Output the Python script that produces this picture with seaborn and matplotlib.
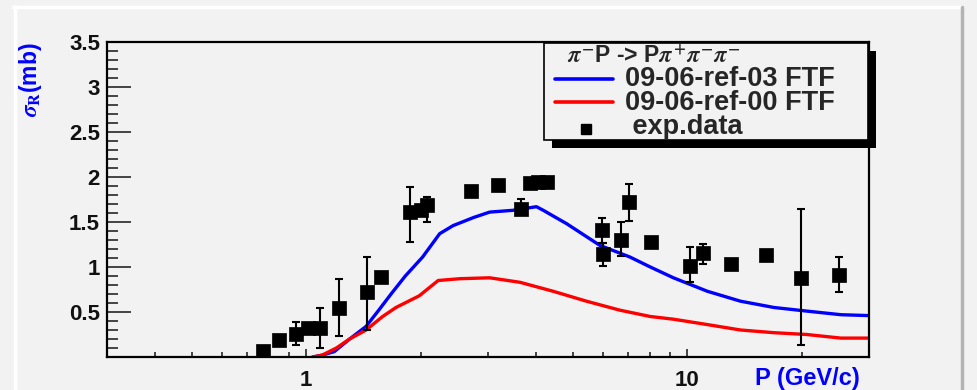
import numpy as np
import pandas as pd
import matplotlib
matplotlib.use("Agg")
import matplotlib.pyplot as plt
import seaborn as sns
from matplotlib.lines import Line2D
from matplotlib.patches import Rectangle
from matplotlib.ticker import LogLocator, NullFormatter, MultipleLocator

# ---- model curves (FTF) ----
ref03_p = [1.04, 1.10, 1.185, 1.30, 1.436, 1.55, 1.67, 1.82, 2.02, 2.24, 2.43, 2.75,
           3.03, 3.49, 4.02, 4.19, 4.83, 5.90, 7.08, 8.00, 9.20, 11.3, 13.8, 16.9,
           20.6, 25.3, 30.0]
ref03_sigma = [0.0, 0.02, 0.06, 0.20, 0.34, 0.52, 0.70, 0.90, 1.11, 1.37, 1.46, 1.55,
               1.61, 1.63, 1.67, 1.63, 1.48, 1.24, 1.11, 1.00, 0.88, 0.73, 0.62, 0.55,
               0.51, 0.47, 0.46]

ref00_p = [1.04, 1.10, 1.20, 1.30, 1.436, 1.587, 1.72, 1.98, 2.22, 2.53, 3.03, 3.64,
           4.45, 5.44, 6.66, 8.00, 9.20, 11.3, 13.8, 16.9, 20.6, 25.3, 30.0]
ref00_sigma = [0.0, 0.02, 0.10, 0.20, 0.30, 0.45, 0.55, 0.68, 0.85, 0.87, 0.88, 0.83,
               0.73, 0.62, 0.52, 0.45, 0.42, 0.36, 0.30, 0.27, 0.25, 0.21, 0.21]

# ---- experimental data ----
exp_p = [0.77, 0.85, 0.94, 1.01, 1.09, 1.22, 1.44, 1.57, 1.87, 2.00, 2.08, 2.71,
         3.19, 3.66, 3.86, 4.05, 4.28, 5.96, 6.02, 6.70, 7.05, 8.05, 10.2, 11.0,
         13.0, 16.1, 19.95, 25.1]
exp_sigma = [0.07, 0.19, 0.26, 0.32, 0.32, 0.55, 0.72, 0.89, 1.61, 1.63, 1.69, 1.84,
             1.91, 1.65, 1.93, 1.95, 1.94, 1.41, 1.14, 1.30, 1.72, 1.28, 1.01, 1.16,
             1.03, 1.13, 0.88, 0.91]
exp_err_lo = [0.0, 0.0, 0.13, 0.0, 0.22, 0.32, 0.42, 0.0, 0.33, 0.0, 0.19, 0.0,
              0.06, 0.07, 0.0, 0.0, 0.0, 0.14, 0.13, 0.18, 0.21, 0.0, 0.18, 0.13,
              0.0, 0.0, 0.75, 0.19]
exp_err_hi = [0.0, 0.0, 0.13, 0.0, 0.23, 0.32, 0.39, 0.0, 0.28, 0.0, 0.09, 0.0,
              0.06, 0.11, 0.0, 0.0, 0.0, 0.14, 0.13, 0.20, 0.20, 0.0, 0.21, 0.10,
              0.0, 0.0, 0.76, 0.20]

x_ticks = [1, 10]
x_tick_labels = ["1", "10"]
y_ticks = [0.5, 1, 1.5, 2, 2.5, 3, 3.5]
y_tick_labels = ["0.5", "1", "1.5", "2", "2.5", "3", "3.5"]

legend_title = r"$\pi^{-}$P -> P$\pi^{+}\pi^{-}\pi^{-}$"
label_ref03 = "09-06-ref-03 FTF"
label_ref00 = "09-06-ref-00 FTF"
label_exp = " exp.data"

curves = pd.concat([
    pd.DataFrame({"p": ref03_p, "sigma": ref03_sigma, "model": label_ref03}),
    pd.DataFrame({"p": ref00_p, "sigma": ref00_sigma, "model": label_ref00}),
])
exp_df = pd.DataFrame({"p": exp_p, "sigma": exp_sigma})

sns.set_theme(style="ticks")
plt.rcParams["font.family"] = ["Liberation Sans", "DejaVu Sans"]
plt.rcParams["mathtext.fontset"] = "stix"
plt.rcParams["font.weight"] = "bold"

W, H = 977, 390
BG = "#f2f2f2"
fig = plt.figure(figsize=(W / 100, H / 100), dpi=100, facecolor=BG)


def fx(px):
    return px / W


def fy(py):
    return 1 - py / H


ax_l, ax_r, ax_t, ax_b = 107, 869, 42, 357
ax = fig.add_axes([fx(ax_l), fy(ax_b), fx(ax_r - ax_l), fy(ax_t) - fy(ax_b)])
ax.set_facecolor(BG)
ax.set_xscale("log")

sns.lineplot(data=curves, x="p", y="sigma", hue="model",
             palette={label_ref03: "#0000ff", label_ref00: "#ff0000"},
             linewidth=2.4, sort=False, estimator=None, legend=False, ax=ax, zorder=2)

ax.errorbar(exp_p, exp_sigma, yerr=[exp_err_lo, exp_err_hi], fmt="none",
            ecolor="black", elinewidth=1.5, capsize=3.2, capthick=1.5, zorder=3)
sns.scatterplot(data=exp_df, x="p", y="sigma", marker="s", s=90, color="black",
                edgecolor="black", linewidth=0.5, legend=False, ax=ax, zorder=4)

ax.set_xlim(0.3, 30)
ax.set_ylim(0, 3.5)
ax.set_xlabel("")
ax.set_ylabel("")

ax.set_xticks(x_ticks, labels=x_tick_labels)
ax.xaxis.set_minor_locator(LogLocator(base=10, subs=np.arange(2, 10)))
ax.xaxis.set_minor_formatter(NullFormatter())
ax.set_yticks(y_ticks, labels=y_tick_labels)
ax.yaxis.set_minor_locator(MultipleLocator(0.1))

ax.tick_params(axis="x", which="major", direction="in", length=6, width=1.2,
               labelsize=16, pad=9, top=False)
ax.tick_params(axis="x", which="minor", direction="in", length=3.5, width=1.2, top=False)
ax.tick_params(axis="y", which="major", direction="in", length=17, width=1.2,
               labelsize=16, pad=5, right=False)
ax.tick_params(axis="y", which="minor", direction="in", length=8, width=1.2, right=False)
for lab in ax.get_xticklabels() + ax.get_yticklabels():
    lab.set_fontweight("bold")
    lab.set_color("#111111")
for sp in ax.spines.values():
    sp.set_linewidth(1.6)
    sp.set_color("black")

# axis titles
fig.text(fx(860), fy(378), "P (GeV/c)", color="#0000ff", fontsize=17,
         fontweight="bold", ha="right", va="center")
fig.text(fx(31), fy(42), r"$\sigma_{\rm R}$(mb)", color="#0000ff", fontsize=16.5,
         fontweight="bold", rotation=90, ha="center", va="top")

# legend box with drop shadow
fig.add_artist(Rectangle((fx(552), fy(148)), fx(876 - 552), fy(51) - fy(148),
                         transform=fig.transFigure, facecolor="black",
                         edgecolor="none", zorder=5))
fig.add_artist(Rectangle((fx(544), fy(140)), fx(868 - 544), fy(43) - fy(140),
                         transform=fig.transFigure, facecolor=BG,
                         edgecolor="black", linewidth=1.2, zorder=6))
fig.text(fx(567), fy(56), legend_title, fontsize=16.5, fontweight="bold",
         ha="left", va="center", zorder=7)
fig.add_artist(Line2D([fx(555), fx(613)], [fy(79), fy(79)], transform=fig.transFigure,
                      color="#0000ff", linewidth=2.6, zorder=7))
fig.add_artist(Line2D([fx(555), fx(613)], [fy(102), fy(102)], transform=fig.transFigure,
                      color="#ff0000", linewidth=2.6, zorder=7))
fig.add_artist(Line2D([fx(586)], [fy(129)], transform=fig.transFigure, marker="s",
                      markersize=7, color="black", linestyle="none", zorder=7))
fig.text(fx(625), fy(78.5), label_ref03, fontsize=19.5, fontweight="bold",
         ha="left", va="center", zorder=7)
fig.text(fx(625), fy(103), label_ref00, fontsize=19.5, fontweight="bold",
         ha="left", va="center", zorder=7)
fig.text(fx(625), fy(127.5), label_exp, fontsize=19.5, fontweight="bold",
         ha="left", va="center", zorder=7)

# page edges around the canvas
fig.add_artist(Line2D([fx(13), fx(962)], [fy(6.5), fy(6.5)], transform=fig.transFigure,
                      color="white", linewidth=2.5))
fig.add_artist(Line2D([fx(14.5), fx(14.5)], [fy(6), fy(390)], transform=fig.transFigure,
                      color="white", linewidth=2.5))
fig.add_artist(Line2D([fx(962), fx(962)], [fy(7), fy(390)], transform=fig.transFigure,
                      color="#b3b3b3", linewidth=2.5))

fig.savefig("out.png", dpi=100, facecolor=BG)
